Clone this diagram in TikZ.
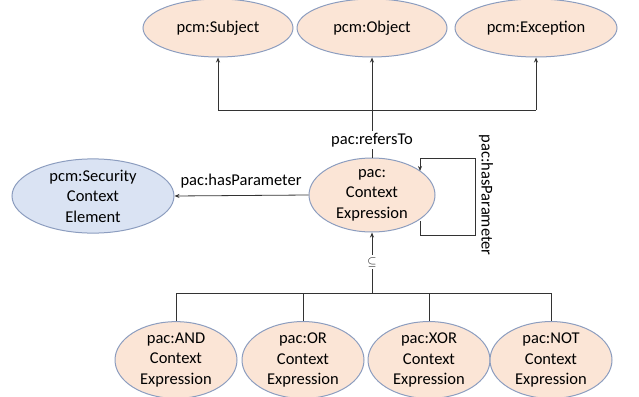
\documentclass[tikz,border=0pt]{standalone}
\usepackage{fontspec}
\setmainfont{Carlito}
\usetikzlibrary{shapes.geometric,arrows.meta}
\definecolor{peach}{HTML}{FBE5D6}
\definecolor{lblue}{HTML}{DAE3F3}
\definecolor{edge}{HTML}{8C9DBF}
\begin{document}
\begin{tikzpicture}[x=1pt,y=-1pt,
  ell/.style={ellipse,draw=edge,line width=1pt,fill=peach,inner sep=0pt,align=center,font=\fontsize{16.5}{20.5}\selectfont},
  conn/.style={draw=black!80,line width=0.8pt},
  arr/.style={conn,-{Stealth[length=5pt,width=4pt]}},
  txt/.style={font=\fontsize{16.5}{20}\selectfont},
  lbl/.style={txt,fill=white,inner sep=2pt}]
\useasboundingbox (0,0) rectangle (639,396);
% top
\node[ell,minimum width=150pt,minimum height=58pt] (subj) at (218,28) {pcm:Subject};
\node[ell,minimum width=150pt,minimum height=58pt] (obj) at (372,28) {pcm:Object};
\node[ell,minimum width=162pt,minimum height=58pt] (exc) at (536,28) {pcm:Exception};
% middle
\node[ell,minimum width=126pt,minimum height=74pt] (ce) at (372,195) {pac:\\Context\\Expression};
\node[ell,fill=lblue,minimum width=162pt,minimum height=66pt] (sce) at (93,196) {pcm:Security\\Context\\Element};
% bottom
\node[ell,minimum width=122pt,minimum height=74pt] (and) at (176,360) {pac:AND\\Context\\Expression};
\node[ell,minimum width=122pt,minimum height=74pt] (or) at (303,360) {pac:OR\\Context\\Expression};
\node[ell,minimum width=122pt,minimum height=74pt] (xor) at (429,360) {pac:XOR\\Context\\Expression};
\node[ell,minimum width=122pt,minimum height=74pt] (not) at (551,360) {pac:NOT\\Context\\Expression};
% refersTo
\coordinate (hub) at (372,110);
\draw[conn] (ce.north) -- (hub);
\draw[conn] (subj.south |- hub) -- (exc.south |- hub);
\draw[arr] (subj.south |- hub) -- (subj.south);
\draw[arr] (hub) -- (obj.south);
\draw[arr] (exc.south |- hub) -- (exc.south);
\node[lbl] (rt) at (372,140) {pac:refersTo};
% hasParameter left
\draw[arr] (ce.west) -- (sce.east);
\node[txt] (hp) at (241,181) {pac:hasParameter};
% self loop
\coordinate (l1) at (420,221);
\coordinate (l2) at (420,235);
\coordinate (l3) at (475,235);
\coordinate (l4) at (475,158);
\coordinate (l5) at (420,158);
\coordinate (l6) at (420,171);
\draw[conn] (l1) -- (l2) -- (l3) -- (l4) -- (l5);
\draw[arr] (l5) -- (l6);
\node[txt,rotate=-90] (hp2) at (486,195) {pac:hasParameter};
% subclass tree
\coordinate (bh) at (372,293);
\draw[arr] (bh) -- (ce.south);
\node[lbl,font=\fontsize{13}{15}\selectfont] (sub) at (372,262) {$\subseteq$};
\draw[conn] (and.north |- bh) -- (not.north |- bh);
\draw[conn] (and.north |- bh) -- (and.north);
\draw[conn] (or.north |- bh) -- (or.north);
\draw[conn] (xor.north |- bh) -- (xor.north);
\draw[conn] (not.north |- bh) -- (not.north);
\end{tikzpicture}
\end{document}
